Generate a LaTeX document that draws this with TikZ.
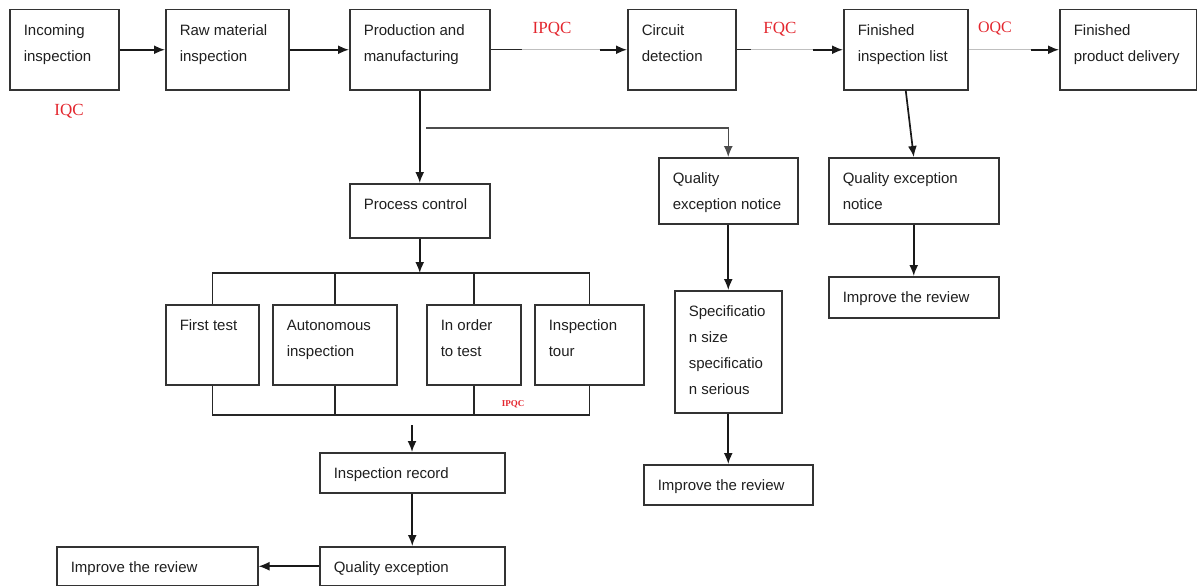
\documentclass[tikz,border=0pt]{standalone}
\usepackage{fontspec}
\setmainfont{Liberation Sans}
\newfontfamily\qcfont{Liberation Serif}
\usetikzlibrary{arrows.meta}

\definecolor{qcred}{HTML}{E3262E}
\definecolor{edge}{HTML}{333333}
\newcommand{\boxfont}{\fontsize{15}{26}\selectfont}
% box: name, x1, y1, x2, y2, text (pixel coordinates, y down)
\newcommand{\blk}[6]{%
  \node[blk] (#1) at (#2,#3)
    {\hspace*{14pt}\parbox[t][\dimexpr#5pt-#3pt\relax][t]{\dimexpr#4pt-#2pt-20pt\relax}{\raggedright\rule{0pt}{26pt}#6}\hspace*{6pt}};}

\tikzset{
  blk/.style={draw=edge, line width=1.5pt, anchor=north west, inner sep=0pt, font=\boxfont, text=black!88},
  arr/.style={draw=black!90, line width=1.7pt, -{Latex[length=11pt,width=9pt]}},
  wire/.style={draw=black!85, line width=1.5pt},
  faint/.style={draw=black!25, line width=1pt},
  qc/.style={text=qcred, font=\qcfont\fontsize{17}{17}\selectfont},
}

\begin{document}
\begin{tikzpicture}[x=1pt,y=-1pt]
\useasboundingbox (0,0) rectangle (1197,586);

% Main line
\blk{inc}{9}{9}{118}{89}{Incoming\\inspection}
\blk{raw}{165}{9}{288}{89}{Raw material\\inspection}
\blk{prod}{349}{9}{489}{89}{Production and\\manufacturing}
\blk{circ}{627}{9}{735}{89}{Circuit\\detection}
\blk{fil}{843}{9}{967}{89}{Finished\\inspection list}
\blk{del}{1059}{9}{1196}{89}{Finished\\product delivery}

\draw[arr] (inc.east) -- (raw.west);
\draw[arr] (raw.east) -- (prod.west);
\draw[wire] (prod.east) -- ++(31,0) coordinate (ipa);
\draw[faint] (ipa) -- ++(78,0) coordinate (ipb);
\draw[arr] (ipb) -- (circ.west);
\draw[wire] (circ.east) -- ++(14,0) coordinate (fqa);
\draw[faint] (fqa) -- ++(62,0) coordinate (fqb);
\draw[arr] (fqb) -- (fil.west);
\draw[faint] (fil.east) -- ++(62,0) coordinate (oqb);
\draw[arr] (oqb) -- (del.west);

\node[qc] (iqc) at (69,111) {IQC};
\node[qc] (ipqc) at (552,29) {IPQC};
\node[qc] (fqc) at (780,29) {FQC};
\node[qc, font=\qcfont\fontsize{16}{16}\selectfont] (oqc) at (995,29) {OQC};

% Process control
\blk{pc}{349}{183}{489}{237}{Process control}
\blk{ft}{165}{304}{258}{384}{First test}
\blk{auto}{272}{304}{396}{384}{Autonomous\\inspection}
\blk{ord}{426}{304}{520}{384}{In order\\to test}
\blk{tour}{534}{304}{643}{384}{Inspection\\tour}

\draw[arr] (prod.south) -- (pc.north);
\coordinate (bt) at (419,273);
\coordinate (bb) at (419,415);
\draw[arr] (pc.south) -- (pc.south |- bt);
\draw[wire] (ft.north) |- (bt) -| (tour.north);
\draw[wire] (auto.north) -- (auto.north |- bt);
\draw[wire] (ord.north) -- (ord.north |- bt);
\draw[wire] (ft.south) |- (bb) -| (tour.south);
\draw[wire] (auto.south) -- ++(0,28);
\draw[wire] (ord.south) -- ++(0,28);
\node[text=qcred, font=\qcfont\bfseries\fontsize{9}{9}\selectfont] (ipqcs) at (513,404) {IPQC};

% Records
\blk{ir}{319}{452}{504}{492}{Inspection record}
\blk{qe}{319}{546}{504}{585}{Quality exception}
\blk{imp1}{56}{546}{257}{585}{Improve the review}

\coordinate (irin) at (412,425);
\draw[arr] (irin) -- (irin |- ir.north);
\draw[arr] (ir.south) -- (qe.north);
\draw[arr] (qe.west) -- (imp1.east);

% Exception branches
\blk{qen}{658}{157}{797}{223}{Quality\\exception notice}
\blk{spec}{674}{290}{781}{412}{Specificatio\\n size\\specificatio\\n serious}
\blk{imp2}{643}{464}{812}{504}{Improve the review}
\blk{qen2}{828}{157}{998}{223}{Quality exception\\notice}
\blk{imp3}{828}{276}{998}{317}{Improve the review}

\coordinate (br) at (426,128);
\draw[arr, draw=black!70, line width=1.2pt] (br) -| (qen.north);
\draw[arr] (qen.south) -- (spec.north);
\draw[arr] (spec.south) -- (imp2.north);
\draw[arr] (fil.south) -- (qen2.north);
\draw[arr] (qen2.south) -- (imp3.north);
\end{tikzpicture}
\end{document}
